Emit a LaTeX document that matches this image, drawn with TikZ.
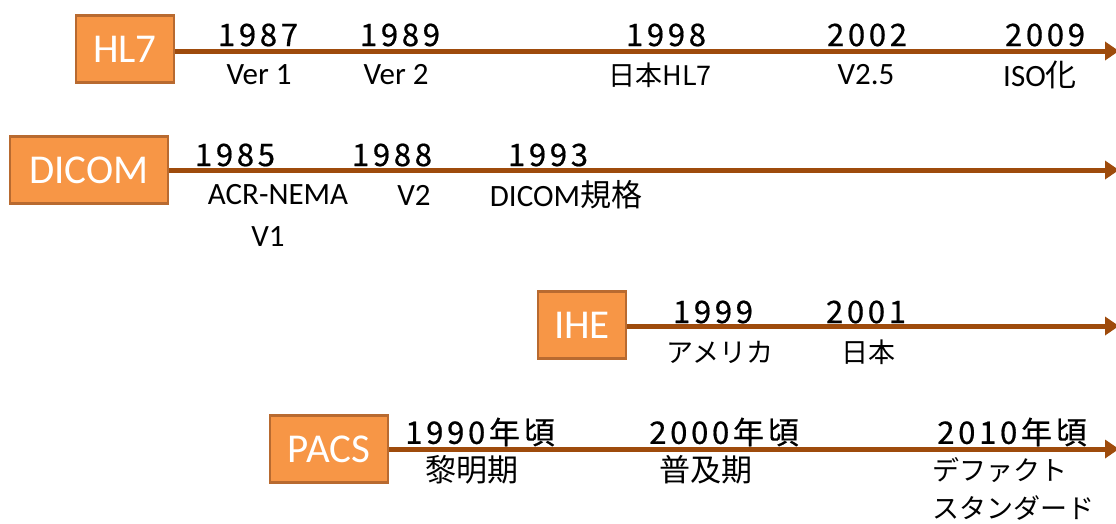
\documentclass[tikz,border=0pt]{standalone}
\usepackage{fontspec}
\setmainfont{Carlito}
\newfontfamily\jpfont{Noto Sans CJK JP}
\newfontfamily\yrfont[LetterSpace=12,FakeBold=0.6]{Noto Sans CJK JP}
\usetikzlibrary{arrows.meta}
\definecolor{boxfill}{HTML}{F79646}
\definecolor{boxedge}{HTML}{B86A30}
\definecolor{linec}{HTML}{9E4B0C}
\begin{document}
\begin{tikzpicture}[x=1pt,y=-1pt,
  box/.style={draw=boxedge, fill=boxfill, line width=2.5pt, text=white,
    font=\fontsize{41}{41}\selectfont, inner sep=0pt, minimum height=67pt},
  tl/.style={draw=linec, line width=5pt, -{Triangle[length=14pt,width=18pt]}},
  yr/.style={font=\yrfont\fontsize{31}{31}\selectfont, inner sep=0pt},
  lb/.style={font=\fontsize{31}{33}\selectfont, inner sep=0pt, align=center},
  jl/.style={font=\jpfont\fontsize{27}{30}\selectfont, inner sep=0pt, align=center},
  jk/.style={font=\jpfont\fontsize{31}{33}\selectfont, inner sep=0pt, align=center},
]
\useasboundingbox (0,0) rectangle (1116,523);
% end points
\coordinate (e1) at (1119,51);
\coordinate (e2) at (1119,170);
\coordinate (e3) at (1119,326);
\coordinate (e4) at (1119,449);
% boxes
\node[box, minimum width=98pt] (hl7) at (125,49) {HL7};
\node[box, minimum width=158pt] (dicom) at (89,170) {DICOM};
\node[box, minimum width=88pt] (ihe) at (582,325) {IHE};
\node[box, minimum width=118pt] (pacs) at (329,449) {PACS};
% lines
\draw[tl] (hl7.east |- e1) -- (e1);
\draw[tl] (dicom.east) -- (e2);
\draw[tl] (ihe.east |- e3) -- (e3);
\draw[tl] (pacs.east) -- (e4);
% HL7 row
\node[yr] (y1987) at (258,35) {1987};
\node[lb] (v1) at (259,75) {Ver 1};
\node[yr] (y1989) at (400,35) {1989};
\node[lb] (v2) at (396,75) {Ver 2};
\node[yr] (y1998) at (666,35) {1998};
\node[jl] (jhl7) at (660,75) {日本HL7};
\node[yr] (y2002) at (867,35) {2002};
\node[lb] (v25) at (866,75) {V2.5};
\node[yr] (y2009) at (1045,35) {2009};
\node[lb] (iso) at (1040,75) {ISO{\jpfont 化}};
% DICOM row
\node[yr] (y1985) at (235,155) {1985};
\node[lb] (acr) at (278,195) {ACR-NEMA};
\node[lb] (acrv1) at (268,237) {V1};
\node[yr] (y1988) at (392,155) {1988};
\node[lb] (dv2) at (414,195) {V2};
\node[yr] (y1993) at (548,155) {1993};
\node[lb] (dstd) at (566,195) {DICOM{\jpfont 規格}};
% IHE row
\node[yr] (y1999) at (713,312) {1999};
\node[jl] (usa) at (720,352) {アメリカ};
\node[yr] (y2001) at (866,312) {2001};
\node[jl] (jp) at (868,352) {日本};
% PACS row
\node[yr] (y1990) at (480,432) {1990年頃};
\node[jk] (dawn) at (472,470) {黎明期};
\node[yr] (y2000) at (724,432) {2000年頃};
\node[jk] (spread) at (706,470) {普及期};
\node[yr] (y2010) at (1012,432) {2010年頃};
\node[jl, align=left, anchor=west, font=\jpfont\fontsize{27}{38}\selectfont] (defacto) at (932,489) {デファクト\\スタンダード};
\end{tikzpicture}
\end{document}
